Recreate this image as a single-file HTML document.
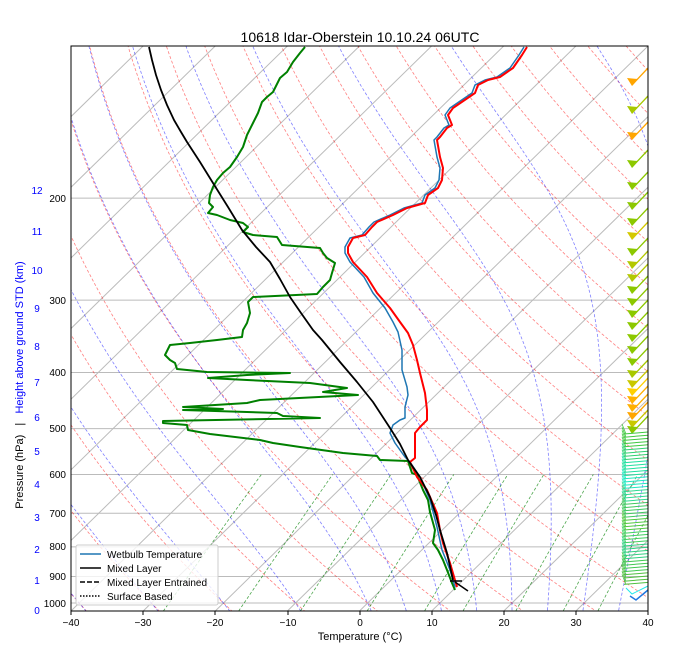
<!DOCTYPE html>
<html><head><meta charset="utf-8"><style>
body{margin:0;background:#fff;}
svg{display:block;font-family:"Liberation Sans","DejaVu Sans",sans-serif;}
</style></head><body>
<svg id="s" width="676" height="662" viewBox="0 0 676 662" xmlns="http://www.w3.org/2000/svg">
<defs><clipPath id="c"><rect x="71" y="46" width="577" height="565"/></clipPath></defs>
<rect width="676" height="662" fill="#fff"/>
<g id="bg" clip-path="url(#c)"></g>
<g clip-path="url(#c)" fill="none" stroke-linejoin="round">
<polyline stroke="#008000" stroke-width="2" points="305,47 300,53 293,62 287,72 280,78 273,92 267,97 262,102 258,113 253,123 247,135 243,147 237,157 230,167 223,173 217,180 213,187 210,195 209,203 213,207 208,213 217,215 230,220 243,223 248,227 243,232 253,235 277,237 282,245 320,248 323,253 327,258 335,263 332,273 330,280 323,287 317,294 253,297 248,302 250,313 247,323 243,330 242,337 217,340 190,343 170,345 165,355 170,360 175,363 177,369 207,372 290,373 247,375 208,378 247,380 310,383 347,388 323,392 358,395 260,400 247,403 183,407 223,409 183,410 277,413 283,416 320,418 163,421 163,423 187,425 188,430 210,434 260,440 273,443 300,447 343,453 377,456 380,460 408,461 412,473 417,475 423,490 428,500 430,512 435,530 433,543 438,550 443,560 447,570 452,583 455,590"/>
<polyline stroke="#1f77b4" stroke-width="1.5" points="524,47 519,55 510,68 497,77 485,80 475,85 472,93 450,108 445,115 449,125 444,128 437,137 434,140 437,157 440,168 439,180 435,188 425,195 422,203 404,208 390,215 374,222 369,227 362,235 350,238 345,247 345,253 350,262 364,277 373,293 385,308 393,322 398,332 402,350 402,370 407,387 408,395 405,407 405,418 400,420 393,425 390,433 395,443 405,457 410,462 420,477 430,500 437,527 442,550 450,570 455,587"/>
<polyline stroke="#ff0000" stroke-width="2" points="527,47 522,55 513,68 500,77 488,80 478,85 475,93 453,108 448,115 452,125 447,128 440,137 437,140 440,157 443,168 442,180 438,188 428,195 425,203 407,208 393,215 377,222 372,227 365,235 353,238 348,247 348,253 353,262 367,277 377,293 390,308 400,322 408,333 413,345 417,360 420,373 425,393 427,410 427,420 420,427 415,433 415,450 415,458 410,462 417,477 427,490 437,513 440,530 443,543 450,563 457,587"/>
<polyline stroke="#000" stroke-width="1.8" points="149,47 152,60 156,75 161,90 167,105 174,120 181,132 187,142 200,162 213,183 228,207 242,230 256,247 270,262 280,279 290,297 301,313 313,330 322,340 340,362 357,382 373,402 390,428 400,444 408,460 420,477 430,497 436,515 440,530 447,553 453,580"/>
<line x1="450" y1="581" x2="462" y2="581" stroke="#000" stroke-width="1.5"/>
<line x1="455" y1="582" x2="468" y2="591" stroke="#000" stroke-width="1.5"/>
</g>
<g id="barbs"></g>
<rect x="71" y="46" width="577" height="565" fill="none" stroke="#000" stroke-width="1"/>
<text x="360" y="42" font-size="14" text-anchor="middle">10618 Idar-Oberstein 10.10.24 06UTC</text>
<g font-size="10" text-anchor="end">
<text x="66" y="607">1000</text><text x="66" y="580">900</text><text x="66" y="550">800</text><text x="66" y="517">700</text><text x="66" y="478">600</text><text x="66" y="432">500</text><text x="66" y="376">400</text><text x="66" y="304">300</text><text x="66" y="202">200</text>
</g>
<g font-size="10" fill="#0000ff" text-anchor="middle">
<text x="37" y="614">0</text><text x="37" y="584">1</text><text x="37" y="553">2</text><text x="37" y="521">3</text><text x="37" y="488">4</text><text x="37" y="455">5</text><text x="37" y="421">6</text><text x="37" y="386">7</text><text x="37" y="350">8</text><text x="37" y="312">9</text><text x="37" y="274">10</text><text x="37" y="235">11</text><text x="37" y="194">12</text>
</g>
<text transform="translate(23,385) rotate(-90)" font-size="11" text-anchor="middle" xml:space="preserve"><tspan>Pressure (hPa)   |   </tspan><tspan fill="#0000ff">Height above ground STD (km)</tspan></text>
<g font-size="10" text-anchor="middle">
<text x="71" y="626">−40</text><text x="143" y="626">−30</text><text x="215" y="626">−20</text><text x="288" y="626">−10</text><text x="360" y="626">0</text><text x="432" y="626">10</text><text x="504" y="626">20</text><text x="576" y="626">30</text><text x="648" y="626">40</text>
</g>
<g stroke="#000"><line x1="71" y1="611" x2="71" y2="615"/><line x1="143" y1="611" x2="143" y2="615"/><line x1="215" y1="611" x2="215" y2="615"/><line x1="288" y1="611" x2="288" y2="615"/><line x1="360" y1="611" x2="360" y2="615"/><line x1="432" y1="611" x2="432" y2="615"/><line x1="504" y1="611" x2="504" y2="615"/><line x1="576" y1="611" x2="576" y2="615"/><line x1="648" y1="611" x2="648" y2="615"/></g>
<text x="360" y="640" font-size="11" text-anchor="middle">Temperature (°C)</text>
<g>
<rect x="76" y="545" width="142" height="60" fill="#fff" fill-opacity="0.8" stroke="#ccc" rx="2"/>
<line x1="80" y1="554" x2="101" y2="554" stroke="#1f77b4" stroke-width="1.5"/>
<line x1="80" y1="568" x2="101" y2="568" stroke="#000" stroke-width="1.5"/>
<line x1="80" y1="582" x2="101" y2="582" stroke="#000" stroke-width="1.5" stroke-dasharray="5,2"/>
<line x1="80" y1="596" x2="101" y2="596" stroke="#000" stroke-width="1.5" stroke-dasharray="1.5,1.5"/>
<g font-size="10"><text x="107" y="558">Wetbulb Temperature</text><text x="107" y="572">Mixed Layer</text><text x="107" y="586">Mixed Layer Entrained</text><text x="107" y="600">Surface Based</text></g>
</g>
</svg>
<script>
(function(){
var NS="http://www.w3.org/2000/svg";
function Y(p){return 603-251.6*Math.log(1000/p);}
function X(T,p){return 71+(T+40)*7.2125+1.0212*(611-Y(p));}
var bg=document.getElementById('bg');
function line(pts,stroke,w,dash,op){var e=document.createElementNS(NS,'polyline');e.setAttribute('points',pts.map(function(q){return q[0].toFixed(1)+','+q[1].toFixed(1);}).join(' '));e.setAttribute('fill','none');e.setAttribute('stroke',stroke);e.setAttribute('stroke-width',w);if(dash)e.setAttribute('stroke-dasharray',dash);if(op)e.setAttribute('stroke-opacity',op);bg.appendChild(e);}
var P=[];for(var p=1050;p>=100;p-=5)P.push(p);
[1000,900,800,700,600,500,400,300,200].forEach(function(p){line([[71,Y(p)],[648,Y(p)]],'#bbb',1);});
for(var T=-140;T<=40;T+=10){line([[X(T,1050),Y(1050)],[X(T,100),Y(100)]],'#bbb',1);}
for(var th=-40;th<=200;th+=10){var pts=P.map(function(p){var t=(th+273.15)*Math.pow(p/1000,0.2857)-273.15;return [X(t,p),Y(p)];});line(pts,'#ff0000',0.8,'3,2','0.5');}
var Rd=287.04,Cp=1005.7,Lv=2.501e6,eps=0.622;
function es(tc){return 6.112*Math.exp(17.67*tc/(tc+243.5));}
function dTdp(T,p){var e=es(T-273.15),rs=eps*e/(p-e);return (Rd*T+Lv*rs)/(p*(Cp+Lv*Lv*rs*eps/(Rd*T*T)));}
var t0s=[-40,-30,-20,-10,0,5,10,15,20,25,30,35];
t0s.forEach(function(t0){var pts=[];var T=t0+273.15,p=1000;
 var T2=T;for(var q=1000;q<1050;q+=5){T2+=dTdp(T2,q)*5;} pts.push([X(T2-273.15,1050),Y(1050)]);
 while(p>=100){pts.push([X(T-273.15,p),Y(p)]);var h=-2;var k1=dTdp(T,p),k2=dTdp(T+h/2*k1,p+h/2),k3=dTdp(T+h/2*k2,p+h/2),k4=dTdp(T+h*k3,p+h);T+=h/6*(k1+2*k2+2*k3+k4);p+=h;}
 line(pts,'#0000ff',0.8,'3,2','0.5');});
[0.0004,0.001,0.002,0.004,0.007,0.01,0.016,0.024,0.032].forEach(function(w){var pts=[];for(var p=1050;p>=600;p-=10){var e=w*p/(eps+w),l=Math.log(e/6.112),td=243.5*l/(17.67-l);pts.push([X(td,p),Y(p)]);}line(pts,'#008000',0.8,'3,2','0.7');});
var bb=document.getElementById('barbs');
function el(tag,attrs){var e=document.createElementNS(NS,tag);for(var k in attrs)e.setAttribute(k,attrs[k]);bb.appendChild(e);}
var up=[[82,'#ffa500'],[110,'#a8c800'],[136,'#ffa500'],[164,'#8cc800'],[186,'#8cc800'],[206,'#8cc800'],[222,'#8cc800'],[236,'#d4c800'],[252,'#8cc800'],[265,'#b4c800'],[278,'#b4c800'],[290,'#8cc800'],[302,'#8cc800'],[314,'#8cc800'],[326,'#8cc800'],[338,'#8cc800'],[350,'#8cc800'],[362,'#8cc800'],[374,'#a8c800'],[384,'#c8c800'],[392,'#ffd000'],[400,'#ffb000'],[408,'#ffb000'],[416,'#ffa500'],[424,'#c8c800'],[430,'#8cc800']];
up.forEach(function(b){var y=b[0],c=b[1];el('line',{x1:648,y1:y-14,x2:632,y2:y+3,stroke:c,'stroke-width':1.3});el('polygon',{points:(627)+','+(y-4)+' '+(632)+','+(y+4)+' '+(638)+','+(y-3),fill:c});});
var cols=['#40c840','#30d070','#20e0a0','#20e8c0','#30d890','#40c860','#50c840','#40d060','#30d080','#40c850','#50c040'];
for(var y=432;y<=585;y+=3.2){var c=cols[Math.floor((y-432)/14)%cols.length];el('line',{x1:648,y1:y,x2:624,y2:y+2,stroke:c,'stroke-width':1});el('line',{x1:626,y1:y+2,x2:622,y2:y-8,stroke:c,'stroke-width':0.8});}
el('polyline',{points:'648,590 636,600 630,596',fill:'none',stroke:'#1f77e0','stroke-width':1.5});
el('polyline',{points:'648,586 632,594 626,588',fill:'none',stroke:'#20e8e8','stroke-width':1});
})();
</script>
</body></html>
